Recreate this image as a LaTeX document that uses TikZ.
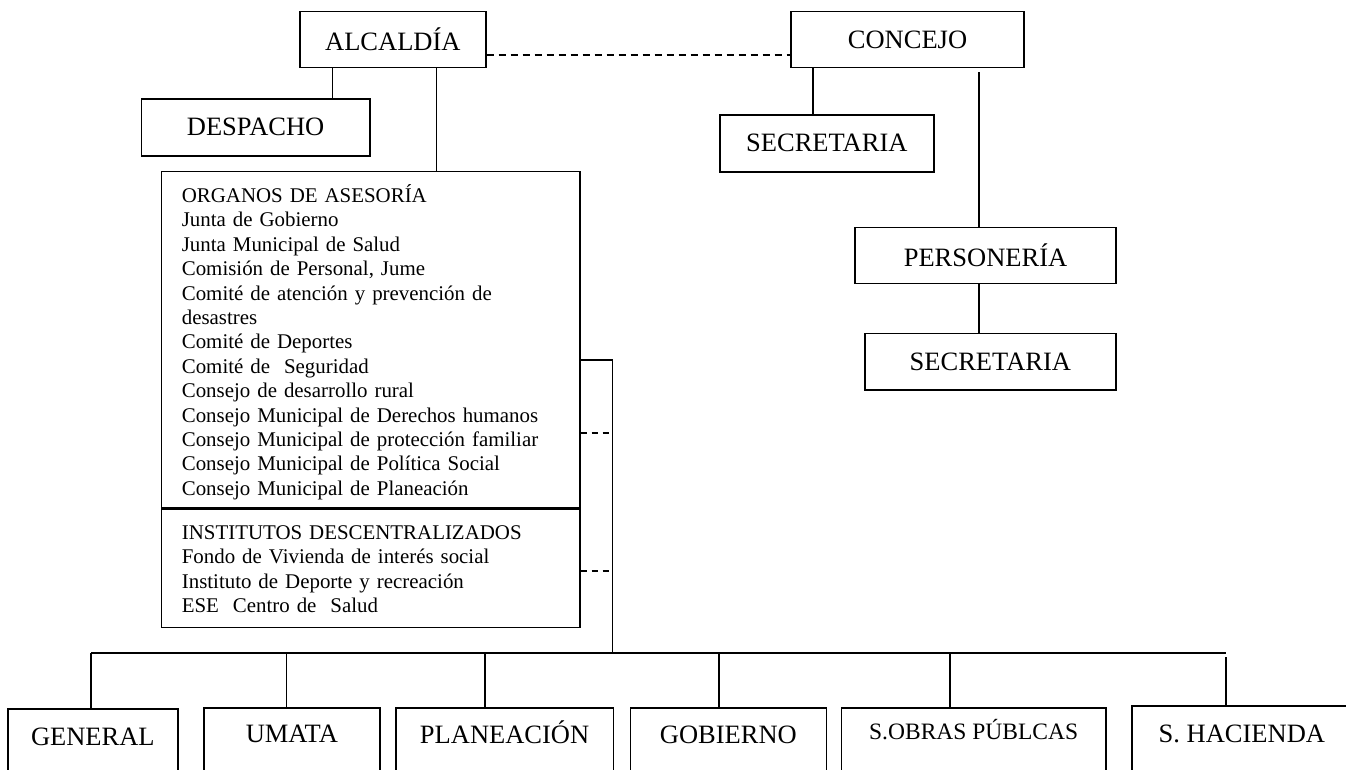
\documentclass[tikz,border=0pt]{standalone}
\usepackage{fontspec}
\setmainfont{Liberation Serif}
\tikzset{
  unit/.style={draw, line width=1.7pt, inner sep=0pt, anchor=north west,
    font=\fontsize{26.5}{30}\selectfont},
  lowunit/.style={unit, text depth=80pt},
  listbox/.style={draw, line width=1.7pt, anchor=north west, inner xsep=20.3pt,
    inner ysep=0pt, text width=377.7pt, align=left,
    font=\fontsize{20.9}{24.4}\selectfont},
  link/.style={line width=1.7pt},
  dlink/.style={line width=1.7pt, dash pattern=on 7pt off 5pt},
  dstub/.style={line width=1.7pt, dash pattern=on 6pt off 5pt}
}
\begin{document}
\begin{tikzpicture}[x=1pt,y=-1pt]
\useasboundingbox (0,0) rectangle (1346,769);
\clip (0,0) rectangle (1346,769);

% top units
\node[unit, minimum width=186pt, minimum height=56pt] (alcaldia) at (299,10.7) {ALCALDÍA};
\node[unit, minimum width=232.6pt, minimum height=56pt] (concejo) at (790.4,10.7) {CONCEJO};
\node[unit, minimum width=228.4pt, minimum height=57pt] (despacho) at (140.6,98) {DESPACHO};
\node[unit, minimum width=214pt, minimum height=57pt] (secre1) at (719,114) {SECRETARIA};
\node[unit, minimum width=260.7pt, minimum height=56pt] (personeria) at (854.3,226.7) {PERSONERÍA};
\node[unit, minimum width=251pt, minimum height=56.3pt] (secre2) at (864,332.7) {SECRETARIA};

% advisory bodies
\node[listbox, text height=31pt, text depth=305.3pt] (organos) at (160.7,170.7) {%
ORGANOS DE ASESORÍA\\
Junta de Gobierno\\
Junta Municipal de Salud\\
Comisión de Personal, Jume\\
Comité de atención y prevención de\\
desastres\\
Comité de Deportes\\
Comité de\ \ Seguridad\\
Consejo de desarrollo rural\\
Consejo Municipal de Derechos humanos\\
Consejo Municipal de protección familiar\\
Consejo Municipal de Política Social\\
Consejo Municipal de Planeación};
\node[listbox, text height=29.7pt, text depth=88.3pt] (institutos) at (organos.south west) {%
INSTITUTOS DESCENTRALIZADOS\\
Fondo de Vivienda de interés social\\
Instituto de Deporte y recreación\\
ESE\ \ Centro de\ \ Salud};

% bottom units
\node[lowunit, minimum width=170pt, text height=37pt] (general) at (7,708) {GENERAL};
\node[lowunit, minimum width=176pt, text height=34.7pt] (umata) at (203,707) {UMATA};
\node[lowunit, minimum width=217.5pt, text height=36pt] (planeacion) at (395,707) {PLANEACIÓN};
\node[lowunit, minimum width=196pt, text height=36pt] (gobierno) at (629.5,707) {GOBIERNO};
\node[lowunit, minimum width=264.4pt, text height=32pt, font=\fontsize{23.5}{28}\selectfont] (sobras) at (840.6,707) {S.OBRAS PÚBLCAS};
\node[lowunit, minimum width=220pt, text height=37pt] (shacienda) at (1131,705) {S. HACIENDA};

% bus coordinates
\coordinate (bus) at (612.5,653);
\coordinate (busL) at (91,653);
\coordinate (busR) at (1226,653);

% connectors top
\draw[dlink] (alcaldia.east |- 0,55) -- (concejo.west |- 0,55);
\draw[link] (alcaldia.south -| 332.6,0) -- (despacho.north -| 332.6,0);
\draw[link] (alcaldia.south -| 436.6,0) -- (organos.north -| 436.6,0);
\draw[link] (concejo.south -| 813,0) -- (secre1.north -| 813,0);
\draw[link, shorten <=4pt] (concejo.south -| 979,0) -- (personeria.north -| 979,0);
\draw[link] (personeria.south -| 978.7,0) -- (secre2.north -| 978.7,0);

% connectors to the bus
\draw[link] (organos.east |- 0,360) -| (bus);
\draw[dstub] (organos.east |- 0,432.7) -- (bus |- 0,432.7);
\draw[dstub] (institutos.east |- 0,570.7) -- (bus |- 0,570.7);
\draw[link] (busL) -- (busR);

% drops
\draw[link] (busL) -- (general.north -| busL);
\draw[link] (bus -| 286.6,0) -- (umata.north -| 286.6,0);
\draw[link] (bus -| 484.8,0) -- (planeacion.north -| 484.8,0);
\draw[link] (bus -| 719,0) -- (gobierno.north -| 719,0);
\draw[link] (bus -| 950,0) -- (sobras.north -| 950,0);
\draw[link, shorten <=4pt] (busR) -- (shacienda.north -| busR);
\end{tikzpicture}
\end{document}
